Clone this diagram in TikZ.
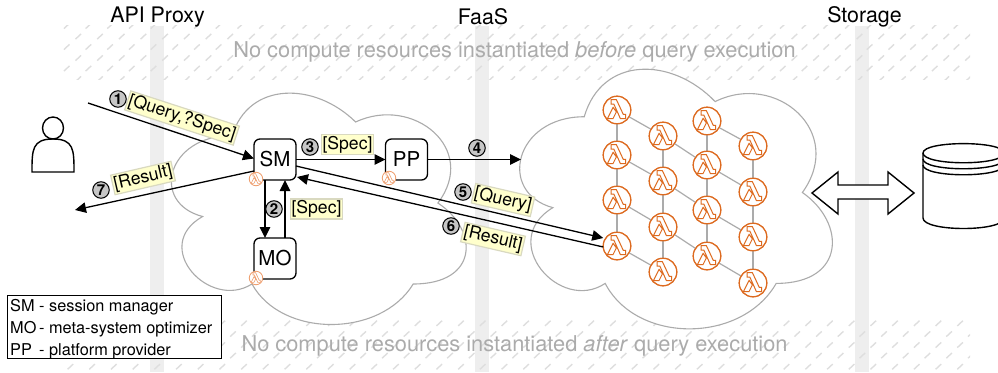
\documentclass[tikz,border=0pt]{standalone}
\usepackage{fontspec}
\setmainfont{TeX Gyre Heros}
\usetikzlibrary{arrows.meta,calc}
\definecolor{bandc}{HTML}{EEEEEE}
\definecolor{hatchc}{HTML}{DEDEDE}
\definecolor{faint}{HTML}{ABABAB}
\definecolor{cloudc}{HTML}{ABABAB}
\definecolor{lamc}{HTML}{DD6A1F}
\definecolor{lamlight}{HTML}{EE9C6B}
\definecolor{labfill}{HTML}{FFFFCC}
\definecolor{labdraw}{HTML}{D9D9C0}
\definecolor{numfill}{HTML}{C6C6C6}
\newcommand{\fsz}[1]{\fontsize{#1}{#1}\selectfont}
\newcommand{\hatchrow}[2]{%
  \foreach \k in {0,...,42} {%
    \pgfmathsetmacro{\xx}{#2+21.7*\k}%
    \draw[hatchline] (\xx-2.8,#1+2.6) -- (\xx+2.8,#1-2.6);
  }}
\newcommand{\cloudshape}[4]{%
  \draw[cloudline] [shift={(#1,#2)},x=#3pt,y=-#4pt]
    (0.25,0.25) .. controls (0.05,0.25) and (0,0.5) .. (0.16,0.55)
    .. controls (0,0.66) and (0.18,0.9) .. (0.31,0.8)
    .. controls (0.4,1) and (0.7,1) .. (0.8,0.8)
    .. controls (1,0.8) and (1,0.6) .. (0.875,0.5)
    .. controls (1,0.3) and (0.8,0.1) .. (0.625,0.2)
    .. controls (0.5,0.05) and (0.3,0.05) .. (0.25,0.25) -- cycle;}
% lambda glyph centred on a named node, scaled by #2
\newcommand{\lamglyph}[3]{%
  \draw[#3,line join=miter] [shift={(#1)},x=#2pt,y=-#2pt]
    (-6,-10.5) -- (-0.7,-10.5) -- (6.3,4.4) -- (8.6,4.4) -- (8.6,8.6) -- (3.4,8.6)
    -- (-3.2,-6) -- (-6,-6) -- cycle
    (-3.9,-2.6) -- (-9.6,8.6) -- (-4,8.6) -- (-0.6,1.8) -- cycle;}
\tikzset{
  hatchline/.style={draw=hatchc,line width=1.4pt},
  cloudline/.style={draw=cloudc,fill=white,line width=1.1pt},
  bandbox/.style={fill=bandc,draw=none},
  head/.style={font=\fsz{21.4},text=black,inner sep=0pt},
  ghost/.style={font=\fsz{21.8},text=faint,inner sep=0pt},
  boxnode/.style={draw=black,fill=white,line width=1.3pt,rounded corners=6pt,minimum width=42pt,minimum height=41pt,inner sep=0pt,outer sep=0pt,font=\fsz{20.5}},
  conn/.style={draw=black,line width=1.3pt,-{Triangle[length=11pt,width=10.5pt]}},
  plainconn/.style={draw=black,line width=1.3pt},
  lab/.style={fill=labfill,draw=labdraw,line width=1.2pt,inner sep=1.2pt,font=\fsz{17.6},text=black,minimum height=20pt},
  num/.style={circle,draw=black,fill=numfill,line width=1pt,minimum size=16.5pt,inner sep=0pt,font=\fsz{15}\bfseries,text=black},
  lam/.style={circle,draw=lamc,fill=white,line width=1.2pt,minimum size=27.5pt,inner sep=0pt,outer sep=0pt},
  lamglyphline/.style={draw=lamc,line width=1pt},
  minilam/.style={circle,draw=lamlight,fill=white,line width=.8pt,minimum size=13.5pt,inner sep=0pt,outer sep=0pt},
  minilamline/.style={draw=lamlight,line width=.6pt},
  grid/.style={draw=cloudc,line width=1.2pt},
  legtext/.style={font=\fsz{16.3},text=black,inner sep=0pt,anchor=base west},
  shapeline/.style={draw=black,line width=1.4pt},
}
\begin{document}
\begin{tikzpicture}[x=1pt,y=-1pt]
\useasboundingbox (0,0) rectangle (998,372);
% vertical bands
\fill[bandbox] (150,26) rectangle (164,372);
\fill[bandbox] (475,26) rectangle (489,372);
\fill[bandbox] (855,26) rectangle (869,372);
% hatching
\begin{scope}
\clip (63,25) rectangle (970,79);
\hatchrow{26}{66.7}\hatchrow{36.5}{56.6}\hatchrow{47}{66.7}\hatchrow{58}{56.6}\hatchrow{68.5}{66.7}\hatchrow{79}{56.6}
\end{scope}
\begin{scope}
\clip (63,318) rectangle (970,372);
\hatchrow{323.3}{70.4}\hatchrow{334}{59.4}\hatchrow{345}{70.4}\hatchrow{355.6}{59.4}\hatchrow{366.7}{70.4}
\end{scope}
% headings
\node[head] (hapi) at (157.5,17) {API Proxy};
\node[head] (hfaas) at (483,17) {FaaS};
\node[head] (hsto) at (864.5,17) {Storage};
\node[ghost] (gtop) at (514.5,52) {No compute resources instantiated \textit{before} query execution};
\node[ghost] (gbot) at (514.5,346) {No compute resources instantiated \textit{after} query execution};
% clouds
\cloudshape{150}{68}{329}{270}
\cloudshape{497}{41}{349}{303}
% lambda grid
\node[lam] (L11) at (617,110) {};
\node[lam] (L12) at (617,155) {};
\node[lam] (L13) at (617,200) {};
\node[lam] (L14) at (617,246) {};
\node[lam] (L21) at (663,136) {};
\node[lam] (L22) at (663,181) {};
\node[lam] (L23) at (663,227) {};
\node[lam] (L24) at (663,272) {};
\node[lam] (L31) at (707,121) {};
\node[lam] (L32) at (707,165) {};
\node[lam] (L33) at (707,210) {};
\node[lam] (L34) at (707,256) {};
\node[lam] (L41) at (753,146) {};
\node[lam] (L42) at (753,192) {};
\node[lam] (L43) at (753,237) {};
\node[lam] (L44) at (753,283) {};
\foreach \c in {1,2,3,4} {
  \draw[grid] (L\c1) -- (L\c2);
  \draw[grid] (L\c2) -- (L\c3);
  \draw[grid] (L\c3) -- (L\c4);
}
\foreach \r in {1,2,3,4} {
  \draw[grid] (L1\r) -- (L2\r);
  \draw[grid] (L3\r) -- (L4\r);
}
\draw[grid] (L21) -- (L32);
\draw[grid] (L22) -- (L33);
\draw[grid] (L23) -- (L34);
\foreach \c in {1,2,3,4} { \foreach \r in {1,2,3,4} {
  \node[lam] at (L\c\r) {};
  \lamglyph{L\c\r}{1}{lamglyphline}
}}
% boxes
\node[boxnode] (SM) at (275,159.5) {SM};
\node[boxnode] (PP) at (406.5,159.5) {PP};
\node[boxnode] (MO) at (275,258.5) {MO};
\node[minilam] (mSM) at (256,179) {};
\lamglyph{mSM}{.5}{minilamline}
\node[minilam] (mPP) at (389,178) {};
\lamglyph{mPP}{.5}{minilamline}
\node[minilam] (mMO) at (256,278) {};
\lamglyph{mMO}{.5}{minilamline}
% free ends
\coordinate (user) at (88,103);
\coordinate (out) at (75,210);
\coordinate (cl2) at (521,159.5);
% connectors
\draw[conn] (user) -- ([yshift=1pt]SM.west);
\draw[conn] (SM.east) -- (PP.west);
\draw[conn] (PP.east) -- (cl2);
\draw[conn] ([xshift=-10pt]SM.south) -- ([xshift=-10pt]MO.north);
\draw[conn] ([xshift=10pt]MO.north) -- ([xshift=10pt]SM.south);
\draw[conn] ([yshift=-11.5pt]SM.west) -- (out);
\draw[conn] ([yshift=-6.5pt]SM.east) -- ([yshift=8pt]L14.west);
\draw[conn] ([yshift=-1pt]L14.west) -- ([xshift=1pt,yshift=-17.5pt]SM.east);
% labels
\node[lab,rotate=-18] (t1) at (182,118) {[Query,?Spec]};
\node[lab] (t3) at (347.5,144.5) {[Spec]};
\node[lab] (t2) at (316.5,209) {[Spec]};
\node[lab,rotate=13] (t7) at (143,178) {[Result]};
\node[lab,rotate=-13] (t5) at (503,200) {[Query]};
\node[lab,rotate=-13] (t6) at (493,239) {[Result]};
\node[num] (n1) at (118,99) {1};
\node[num] (n2) at (274,209) {2};
\node[num] (n3) at (310,147) {3};
\node[num] (n4) at (477,148) {4};
\node[num] (n5) at (463,192) {5};
\node[num] (n6) at (451,226) {6};
\node[num] (n7) at (101,190) {7};
% actor
\draw[shapeline] (32,172) .. controls (32,150) and (32,139) .. (53,139) .. controls (74,139) and (74,150) .. (74,172) -- cycle;
\draw[shapeline,fill=white] (53,128) ellipse [x radius=10.5pt,y radius=11pt];
% block arrow
\draw[shapeline,fill=white,line join=miter] (812,193) -- (838,172) -- (838,185) -- (888,185) -- (888,172) -- (914,193) -- (888,214) -- (888,199) -- (838,199) -- (838,214) -- cycle;
% datastore
\begin{scope}
\clip (0,0) rectangle (998,372);
\draw[shapeline,fill=white] (923,153) .. controls (923,140.5) and (1004,140.5) .. (1004,153) -- (1004,218) .. controls (1004,232) and (923,232) .. (923,218) -- cycle;
\draw[shapeline] (923,153) .. controls (923,166) and (1004,166) .. (1004,153);
\draw[shapeline] (923,159) .. controls (923,172) and (1004,172) .. (1004,159);
\draw[shapeline] (923,165) .. controls (923,178) and (1004,178) .. (1004,165);
\end{scope}
% legend
\node[draw=black,fill=white,line width=1pt,minimum width=214pt,minimum height=62.5pt,inner sep=0pt,outer sep=0pt] (legend) at (114,327) {};
\node[legtext] (l1a) at (10,311) {SM};
\node[legtext] (l1b) at (39,311) {- session manager};
\node[legtext] (l2a) at (10,333) {MO};
\node[legtext] (l2b) at (39,333) {- meta-system optimizer};
\node[legtext] (l3a) at (10,355.5) {PP};
\node[legtext] (l3b) at (39,355.5) {- platform provider};
\end{tikzpicture}
\end{document}
